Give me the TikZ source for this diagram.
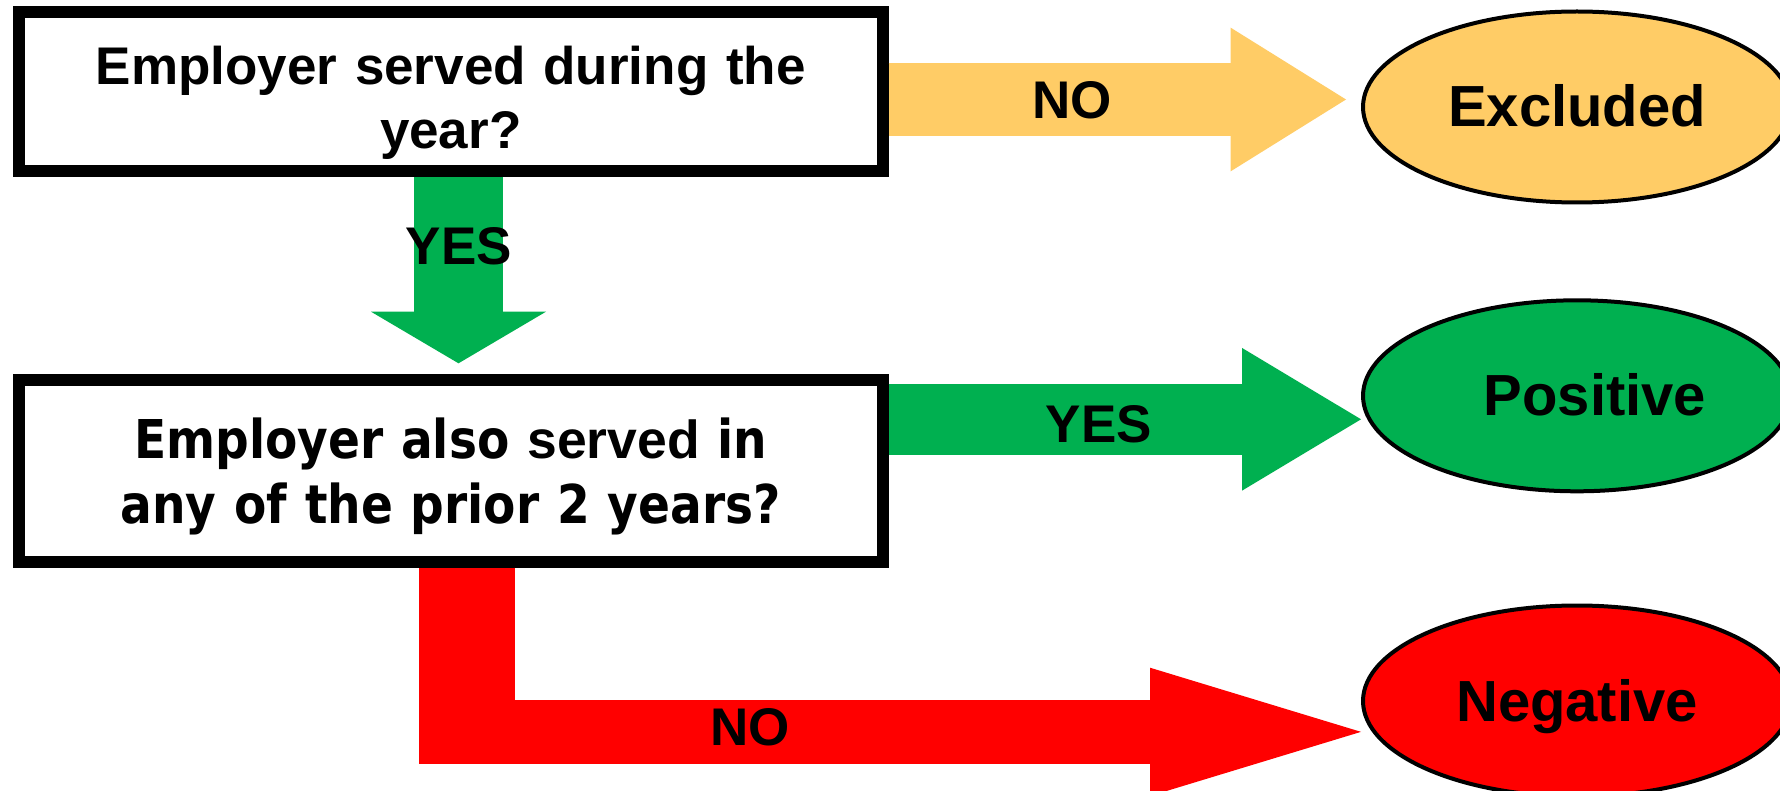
\documentclass[tikz,border=0pt]{standalone}
\usepackage{fontspec}
\setmainfont{Liberation Sans}
\newfontfamily\qfont[FakeStretch=0.88]{DejaVu Sans}
\usetikzlibrary{shapes.geometric,arrows.meta}
\definecolor{noorange}{HTML}{FFCC66}
\definecolor{yesgreen}{HTML}{00B050}
\definecolor{nored}{HTML}{FF0000}

\begin{document}
\begin{tikzpicture}[x=1pt,y=-1pt,
    question/.style={draw,line width=12pt,rectangle,minimum width=863.5pt,inner sep=0pt,
        text width=850pt,align=center,text height=40pt,
        font=\bfseries\fontsize{53}{63.3}\selectfont},
    outcome/.style={draw,line width=4pt,ellipse,minimum width=428pt,minimum height=191pt,
        inner sep=0pt,text height=40pt,text depth=0pt,font=\bfseries\fontsize{58}{60}\selectfont},
    choice/.style={anchor=base,inner sep=0pt,font=\bfseries\fontsize{53}{60}\selectfont},
    flow/.style args={#1/#2/#3}{line width=#1,-{Triangle[length=#2,width=#3,line width=0pt]}}
  ]
    \clip (0,0) rectangle (1780,791);
    \fill[white] (0,0) rectangle (1780,791);

    \node[question,minimum height=159.3pt,text depth=52.7pt] (q1) at (450.75,91.35)
        {Employer served during the\\year?};
    \node[question,minimum height=181.5pt,text depth=64.9pt,
        font=\qfont\bfseries\fontsize{53.5}{65}\selectfont] (q2) at (450.75,470.75)
        {Employer also {\rmfamily served} in\\any of the prior 2 years?};

    \node[outcome,fill=noorange] (excl) at (1577,107) {Excluded};
    \node[outcome,fill=yesgreen] (pos) at (1577,395.8) {\kern36pt Positive};
    \node[outcome,fill=nored] (neg) at (1577,701) {Negative};

    % answers
    \draw[flow=72.4pt/115.3pt/143.6pt,noorange,shorten >=15pt] (q1.east |- 0,99.5) -- (excl.west |- 0,99.5);
    \draw[flow=88.4pt/51.6pt/175pt,yesgreen,shorten >=10.7pt] (q1.south -| 458.5,0) -- (q2.north -| 458.5,0);
    \draw[flow=71.3pt/119pt/142.7pt,yesgreen] (q2.east |- 0,419.3) -- (pos.west |- 0,419.3);

    \coordinate (nobend) at (467,731.85);
    \draw[nored,line width=96pt] (q2.south -| nobend) -- (nobend |- 0,764);
    \draw[flow=64.3pt/211pt/128.3pt,nored] (nobend) -- (neg.west |- nobend);

    \node[choice] (noexcl) at (1072,119) {NO};
    \node[choice] (yesdown) at (459,265) {YES};
    \node[choice] (yespos) at (1099,442.3) {YES};
    \node[choice] (noneg) at (750.4,745) {NO};
\end{tikzpicture}
\end{document}
